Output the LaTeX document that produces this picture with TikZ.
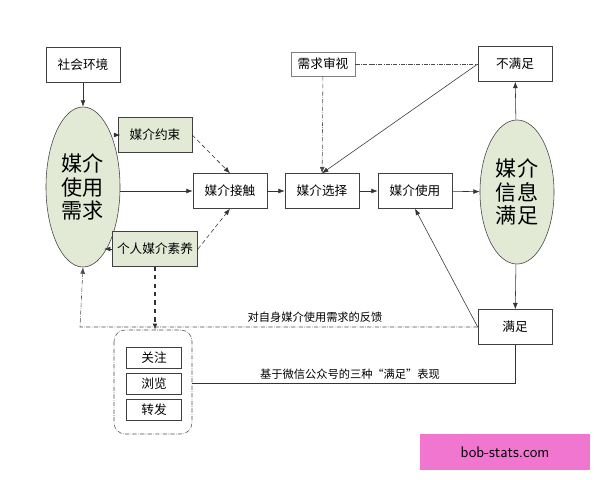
\documentclass[tikz,border=0pt]{standalone}
\usepackage{fontspec}
\newfontfamily\cjk{Noto Sans CJK SC}
\usetikzlibrary{shapes.geometric,arrows.meta}

\definecolor{sage}{RGB}{226,234,214}
\definecolor{pinkmark}{RGB}{240,118,208}

\tikzset{
    box/.style={draw=black!75, rectangle, minimum width=1.85cm, minimum height=0.87cm, font=\cjk\fontsize{9}{10}\selectfont},
    gbox/.style={box, fill=sage},
    need/.style={draw=black!75, ellipse, fill=sage, minimum width=1.85cm, minimum height=4cm, inner sep=0pt, align=center, font=\cjk\fontsize{15}{17}\selectfont},
    sbox/.style={draw=black!75, rectangle, minimum width=1.37cm, minimum height=0.47cm, font=\cjk\fontsize{9}{10}\selectfont},
    arr/.style={-{Latex[length=1.6mm,width=1.2mm]}, black!80},
    dd/.style={densely dashdotted, black!70},
}

\begin{document}
\begin{tikzpicture}[x=0.025cm, y=-0.025cm]
    \useasboundingbox (0,0) rectangle (600,480);

    % Left part
    \node[box] (env) at (83,65) {社会环境};
    \node[need] (need) at (83,187) {媒介\\使用\\需求};
    \node[gbox] (limit) at (155,135) {媒介约束};
    \node[gbox] (skill) at (155,249) {个人媒介素养};

    % Middle chain
    \node[box] (touch) at (230,191) {媒介接触};
    \node[box] (select) at (322,191) {媒介选择};
    \node[box, draw=black!50, minimum width=1.6cm, minimum height=0.6cm] (check) at (323,64) {需求审视};
    \node[box] (use) at (415,191) {媒介使用};

    % Right part
    \node[box] (unsat) at (515,64) {不满足};
    \node[need, minimum height=3.6cm] (sat) at (517,192) {媒介\\信息\\满足};
    \node[box] (ok) at (515,327) {满足};

    % Bottom group
    \node[sbox] (b1) at (154,358) {关注};
    \node[sbox] (b2) at (154,384) {浏览};
    \node[sbox] (b3) at (154,410) {转发};
    \draw[dd, rounded corners=8pt] (114,330) rectangle (192,434);
    \coordinate (grp) at (192,383);
    \coordinate (grptop) at (155,330);

    % Solid arrows
    \draw[arr] (env) -- (need);
    \draw[arr] (limit) -- (limit -| need.east);
    \draw[arr] (skill.west) -- ++(-8,0);
    \draw[arr] (need.east |- touch) -- (touch);
    \draw[arr] (touch) -- (select);
    \draw[arr] (select) -- (use);
    \draw[arr] (use) -- (sat);
    \draw[arr] (sat) -- (unsat);
    \draw[arr] (sat) -- (ok);
    \draw[arr] (unsat.west) -- (select.north);
    \draw[arr] (ok.west) -- (use.south);

    % Dashed links
    \draw[arr, densely dashed] (limit.east) -- (touch.north);
    \draw[arr, densely dashed] (skill.east) -- (touch.south);
    \draw[arr, dd] (check) -- (select);
    \draw[dd] (check) -- (unsat);
    \draw[arr, very thick, dashed] (skill) -- (grptop);

    % Feedback
    \draw[arr, dd] (ok.west) -- (80,327) -- (need.south);
    \node[font=\cjk\fontsize{8}{9}\selectfont] at (315,317) {对自身媒介使用需求的反馈};
    \draw[black!80] (ok.south) |- (grp);
    \node[font=\cjk\fontsize{8}{9}\selectfont] at (350,374) {基于微信公众号的三种“满足”表现};

    % Watermark
    \node[fill=pinkmark, minimum width=4.25cm, minimum height=0.88cm, font=\sffamily\fontsize{11}{12}\selectfont] (mark) at (505,452) {bob-stats.com};
\end{tikzpicture}
\end{document}
